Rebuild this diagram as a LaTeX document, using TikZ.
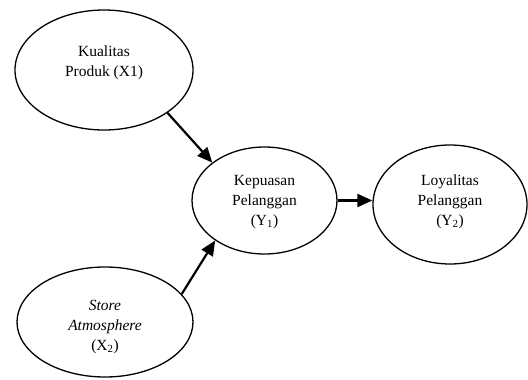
\documentclass[tikz,border=0pt]{standalone}
\usepackage{fontspec}
\setmainfont{Liberation Serif}
\usetikzlibrary{shapes.geometric,arrows.meta}
\begin{document}
\begin{tikzpicture}[x=1pt,y=-1pt,
  var/.style={draw, ellipse, line width=1.3pt, inner sep=0pt},
  lbl/.style={align=center, font=\fontsize{15.5}{20}\selectfont, inner sep=0pt},
  link/.style={line width=2.2pt, -{Triangle[length=15pt,width=13pt]}}]
\useasboundingbox (0,0) rectangle (528,380);
\node[var, minimum width=178pt, minimum height=120pt] (k) at (104,70) {};
\node[var, minimum width=145pt, minimum height=107pt] (p) at (264.5,200.5) {};
\node[var, minimum width=154pt, minimum height=119pt] (l) at (450,204.5) {};
\node[var, minimum width=176pt, minimum height=110pt] (s) at (105,322) {};
\node[lbl] (kt) at (104,63) {Kualitas\\Produk (X1)};
\node[lbl] (pt) at (264.5,202) {Kepuasan\\Pelanggan\\(Y\textsubscript{1})};
\node[lbl] (lt) at (450,202) {Loyalitas\\Pelanggan\\(Y\textsubscript{2})};
\node[lbl] (st) at (105,327) {\itshape Store\\\itshape Atmosphere\\(X\textsubscript{2})};
\draw[link] (k.-34) -- (p.144);
\draw[link] (s.20) -- (p.219);
\draw[link] (p.east) -- (p.east -| l.west);
\end{tikzpicture}
\end{document}
